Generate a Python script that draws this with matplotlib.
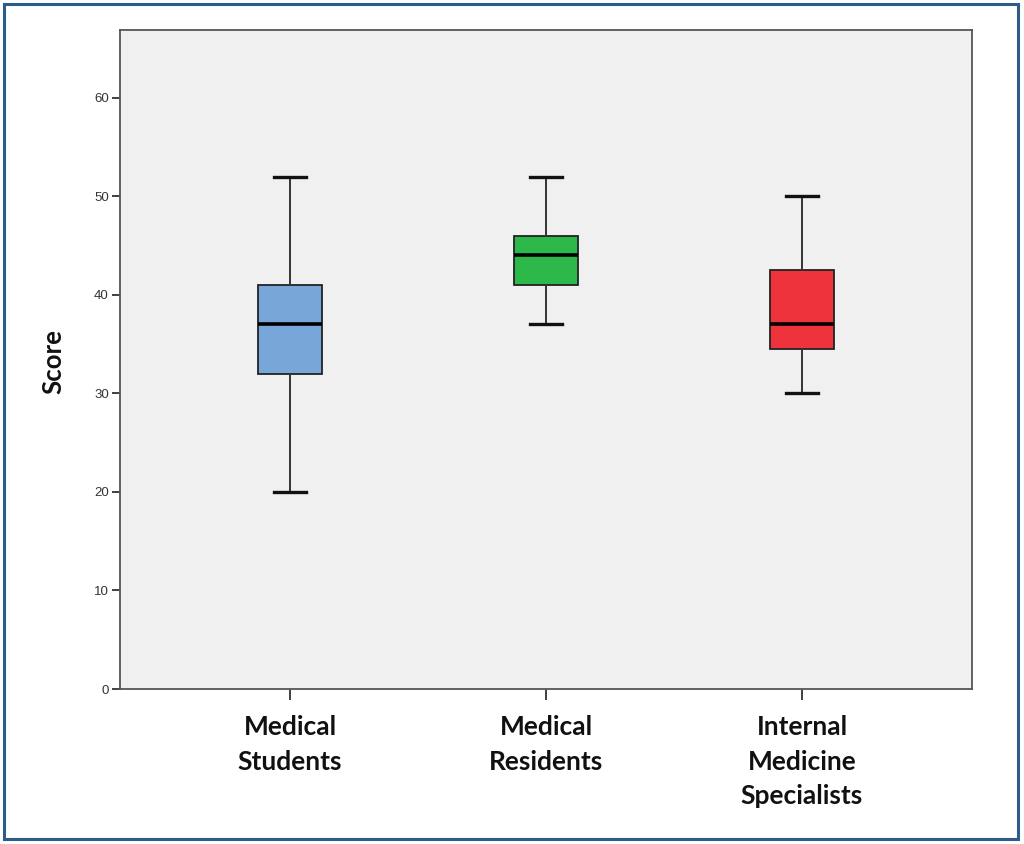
import matplotlib
matplotlib.use("Agg")
import matplotlib.pyplot as plt
from matplotlib.patches import Rectangle

categories = ["Medical\nStudents", "Medical\nResidents", "Internal\nMedicine\nSpecialists"]
whisker_low = [20, 37, 30]
q1 = [32, 41, 34.5]
median = [37, 44, 37]
q3 = [41, 46, 42.5]
whisker_high = [52, 52, 50]
colors = ["#78A6D8", "#2DB84A", "#EE333D"]
yticks = [0, 10, 20, 30, 40, 50, 60]

fig = plt.figure(figsize=(10.24, 8.44), dpi=100)
ax = fig.add_axes([120/1024, 1-689/844, (972-120)/1024, (689-30)/844])
ax.set_facecolor("#F0F0F0")

stats = []
for i in range(len(categories)):
    stats.append(dict(med=median[i], q1=q1[i], q3=q3[i], whislo=whisker_low[i],
                      whishi=whisker_high[i], fliers=[], label=categories[i]))

bp = ax.bxp(stats, positions=range(len(categories)), widths=0.252, patch_artist=True,
            showfliers=False, capwidths=0.125,
            boxprops=dict(edgecolor="#222222", linewidth=1.3),
            whiskerprops=dict(color="#333333", linewidth=1.4),
            capprops=dict(color="#111111", linewidth=2.4),
            medianprops=dict(color="#000000", linewidth=2.6))
for patch, c in zip(bp["boxes"], colors):
    patch.set_facecolor(c)

ax.set_xlim(-0.664, 2.664)
ax.set_ylim(0, 66.87)
ax.set_yticks(yticks)
ax.tick_params(axis="y", length=6, width=1.3, color="#333333", labelsize=9.5,
               labelcolor="#333333", pad=2)
ax.tick_params(axis="x", length=8, width=1.3, color="#333333", pad=11)
ax.set_xticks(range(len(categories)))
ax.set_xticklabels(categories, fontsize=19, fontweight="bold", family=["Lato", "DejaVu Sans"],
                   linespacing=1.52, color="#111111")
for lab in ax.get_yticklabels():
    lab.set_family(["Liberation Sans", "DejaVu Sans"])
for s in ax.spines.values():
    s.set_color("#555555")
    s.set_linewidth(1.3)

fig.text(53/1024, 1-362/844, "Score", rotation=90, ha="center", va="center",
         fontsize=18.5, fontweight="bold", family=["Lato", "DejaVu Sans"], color="#111111")

fig.patches.append(Rectangle((4/1024, 1-839/844), (1018-4)/1024, (839-4)/844,
                             transform=fig.transFigure, fill=False,
                             edgecolor="#2E5C8A", linewidth=2.2))

fig.savefig("out.png", dpi=100)
